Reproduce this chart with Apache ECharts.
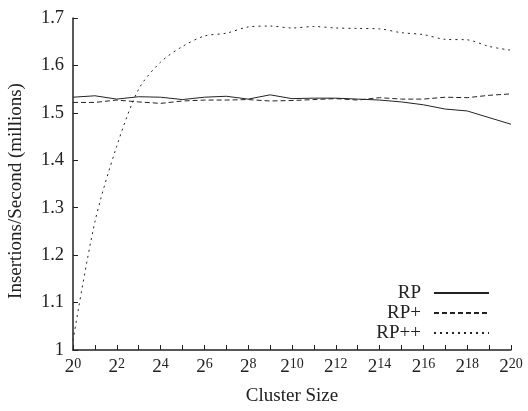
<!DOCTYPE html>
<html>
<head>
<meta charset="utf-8">
<script src="https://cdn.jsdelivr.net/npm/echarts@6/dist/echarts.min.js"></script>
<style>
  html, body { margin: 0; padding: 0; background: #fff; }
  #chart { width: 528px; height: 411px; }
</style>
</head>
<body>
<div id="chart"></div>
<script>
// cluster size exponents: 2^0 .. 2^20
const exponents = ['0','1','2','3','4','5','6','7','8','9','10','11','12','13','14','15','16','17','18','19','20'];
// insertions/second (millions)
const rp = [1.533, 1.536, 1.529, 1.534, 1.533, 1.528, 1.533, 1.535, 1.529, 1.538, 1.530, 1.531, 1.531, 1.529, 1.527, 1.523, 1.517, 1.508, 1.504, 1.490, 1.476];
const rpPlus = [1.522, 1.522, 1.527, 1.523, 1.520, 1.525, 1.527, 1.527, 1.528, 1.525, 1.526, 1.528, 1.530, 1.527, 1.532, 1.529, 1.529, 1.533, 1.532, 1.537, 1.540];
const rpPlusPlus = [1.02, 1.27, 1.43, 1.55, 1.607, 1.64, 1.662, 1.668, 1.681, 1.683, 1.679, 1.682, 1.679, 1.678, 1.677, 1.669, 1.665, 1.655, 1.654, 1.640, 1.632];

const FONT = '"Liberation Serif", "DejaVu Serif", serif';
const INK = '#222';

const chart = echarts.init(document.getElementById('chart'));
chart.setOption({
    animation: false,
    textStyle: { fontFamily: FONT },
    grid: { left: 73, right: 17, top: 18, bottom: 61, outerBoundsMode: 'none', containLabel: false },
    legend: {
        orient: 'vertical',
        right: 38,
        top: 283,
        align: 'right',
        itemWidth: 55,
        itemHeight: 12,
        itemGap: 0,
        padding: 0,
        itemStyle: { opacity: 0 },
        textStyle: { fontFamily: FONT, fontSize: 19, lineHeight: 20, color: INK, padding: [0, 8, 0, 0] },
        data: ['RP', 'RP+', 'RP++']
    },
    xAxis: {
        type: 'category',
        data: exponents,
        boundaryGap: false,
        name: 'Cluster Size',
        nameLocation: 'middle',
        nameGap: 37,
        nameTextStyle: { fontFamily: FONT, fontSize: 19, color: INK },
        axisLine: { lineStyle: { color: INK, width: 1.5 } },
        axisTick: { inside: true, length: 5, interval: 0, lineStyle: { color: INK } },
        axisLabel: {
            interval: 1,
            margin: 7,
            color: INK,
            formatter: function (v) { return '{b|2}{s|' + v + '}'; },
            rich: {
                b: { fontFamily: FONT, fontSize: 19, color: INK, verticalAlign: 'bottom', lineHeight: 20 },
                s: { fontFamily: FONT, fontSize: 14, color: INK, verticalAlign: 'top', padding: [0, 0, 9, 0], lineHeight: 20 }
            }
        },
        splitLine: { show: false }
    },
    yAxis: {
        type: 'value',
        min: 1,
        max: 1.7,
        interval: 0.1,
        name: 'Insertions/Second (millions)',
        nameLocation: 'middle',
        nameGap: 47,
        nameTextStyle: { fontFamily: FONT, fontSize: 19, color: INK, padding: [0, 14, 0, 0] },
        axisLine: { show: true, lineStyle: { color: INK, width: 1.5 } },
        axisTick: { show: true, inside: true, length: 5, lineStyle: { color: INK } },
        axisLabel: { fontFamily: FONT, fontSize: 18.5, color: INK, margin: 9 },
        splitLine: { show: false }
    },
    series: [{
        name: 'RP',
        type: 'line',
        data: rp,
        symbol: 'none',
        lineStyle: { color: INK, width: 1 },
        itemStyle: { color: INK }
    }, {
        name: 'RP+',
        type: 'line',
        data: rpPlus,
        symbol: 'none',
        lineStyle: { color: INK, width: 1, type: [5, 3] },
        itemStyle: { color: INK }
    }, {
        name: 'RP++',
        type: 'line',
        data: rpPlusPlus,
        symbol: 'none',
        smooth: 0.3,
        lineStyle: { color: INK, width: 1, type: [2, 4] },
        itemStyle: { color: INK }
    }]
});
</script>
</body>
</html>
